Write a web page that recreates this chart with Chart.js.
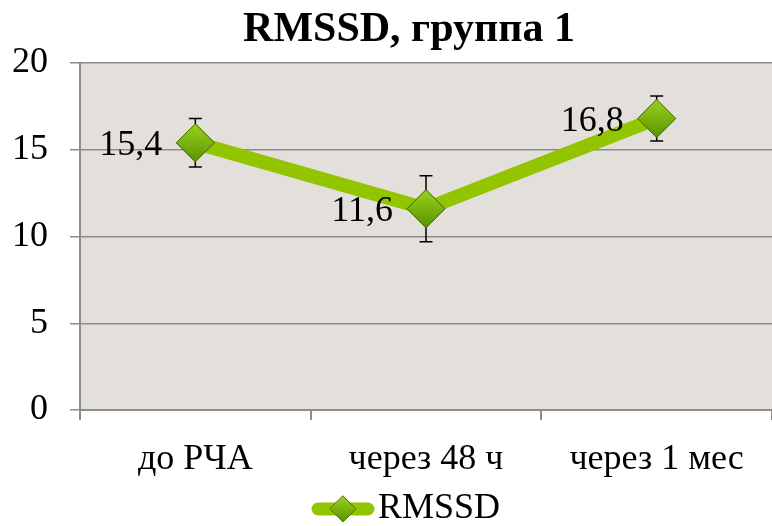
<!DOCTYPE html>
<html>
<head>
<meta charset="utf-8">
<script src="https://cdn.jsdelivr.net/npm/chart.js@4"></script>
<style>
  html, body { margin: 0; padding: 0; background: #ffffff; }
  #wrap { width: 772px; height: 526px; }
</style>
</head>
<body>
<div id="wrap"><canvas id="chartRmssd"></canvas></div>
<script>
const categories = ['до РЧА', 'через 48 ч', 'через 1 мес'];
const rmssdValues = [15.4, 11.6, 16.8];
const rmssdErrors = [1.4, 1.9, 1.3];
const valueLabels = ['15,4', '11,6', '16,8'];
const yTicks = [0, 5, 10, 15, 20];

const serif = "'Liberation Serif', 'Times New Roman', serif";

// legend symbol: thick line with a diamond, drawn in the right part of a wider image
const legendIcon = document.createElement('canvas');
legendIcon.width = 114;
legendIcon.height = 32;
(() => {
  const c = legendIcon.getContext('2d');
  const x0 = 114 - 64;
  c.strokeStyle = '#92c400';
  c.lineWidth = 13;
  c.lineCap = 'round';
  c.beginPath();
  c.moveTo(x0 + 7, 16);
  c.lineTo(x0 + 57, 16);
  c.stroke();
  const g = c.createLinearGradient(0, 3, 0, 29);
  g.addColorStop(0, '#9ad21e');
  g.addColorStop(1, '#5a9300');
  c.fillStyle = g;
  c.strokeStyle = '#4d7300';
  c.lineWidth = 1;
  c.beginPath();
  c.moveTo(x0 + 32, 3);
  c.lineTo(x0 + 45, 16);
  c.lineTo(x0 + 32, 29);
  c.lineTo(x0 + 19, 16);
  c.closePath();
  c.fill();
  c.stroke();
})();

// grey plot background
const plotBackground = {
  id: 'plotBackground',
  beforeDraw(chart) {
    const { ctx, chartArea: a } = chart;
    ctx.save();
    ctx.fillStyle = '#e3e0dc';
    ctx.fillRect(a.left, a.top, a.right - a.left, a.bottom - a.top);
    ctx.restore();
  }
};

// error bars, then the markers again on top of them
const errorBars = {
  id: 'errorBars',
  afterDatasetDraw(chart, args) {
    if (args.index !== 0) return;
    const { ctx, scales } = chart;
    const meta = chart.getDatasetMeta(0);
    ctx.save();
    ctx.strokeStyle = '#000000';
    ctx.lineWidth = 1.5;
    meta.data.forEach((pt, i) => {
      const yTop = scales.y.getPixelForValue(rmssdValues[i] + rmssdErrors[i]);
      const yBot = scales.y.getPixelForValue(rmssdValues[i] - rmssdErrors[i]);
      ctx.beginPath();
      ctx.moveTo(pt.x, yTop);
      ctx.lineTo(pt.x, yBot);
      ctx.moveTo(pt.x - 6.5, yTop);
      ctx.lineTo(pt.x + 6.5, yTop);
      ctx.moveTo(pt.x - 6.5, yBot);
      ctx.lineTo(pt.x + 6.5, yBot);
      ctx.stroke();
    });
    ctx.restore();
    meta.data.forEach(pt => pt.draw(ctx, chart.chartArea));
  }
};

// value labels to the left of each point
const valueLabelPlugin = {
  id: 'valueLabels',
  afterDatasetsDraw(chart) {
    const { ctx } = chart;
    const meta = chart.getDatasetMeta(0);
    ctx.save();
    ctx.font = '36px ' + serif;
    ctx.fillStyle = '#000000';
    ctx.textAlign = 'right';
    ctx.textBaseline = 'middle';
    meta.data.forEach((pt, i) => {
      ctx.fillText(valueLabels[i], pt.x - 33, pt.y + 3);
    });
    ctx.restore();
  }
};

const markerFill = (context) => {
  const chart = context.chart;
  if (!chart.chartArea || context.dataIndex === undefined) return '#78b500';
  const y = chart.scales.y.getPixelForValue(rmssdValues[context.dataIndex]);
  const g = chart.ctx.createLinearGradient(0, y - 19, 0, y + 19);
  g.addColorStop(0, '#9ad21e');
  g.addColorStop(1, '#5a9300');
  return g;
};

new Chart(document.getElementById('chartRmssd').getContext('2d'), {
  type: 'line',
  data: {
    labels: categories,
    datasets: [{
      label: 'RMSSD',
      data: rmssdValues,
      borderColor: '#92c400',
      borderWidth: 14,
      pointStyle: 'rectRot',
      pointRadius: 19,
      pointHoverRadius: 19,
      pointBackgroundColor: markerFill,
      pointBorderColor: '#4d7300',
      pointBorderWidth: 1,
      tension: 0
    }]
  },
  options: {
    responsive: true,
    maintainAspectRatio: false,
    animation: false,
    layout: { autoPadding: false, padding: { left: 0, right: -4, top: 0, bottom: -11 } },
    plugins: {
      title: {
        display: true,
        text: '    RMSSD, группа 1',
        color: '#000000',
        font: { family: serif, size: 42, weight: 'bold' },
        padding: { top: 5, bottom: 7.6 }
      },
      legend: {
        position: 'bottom',
        labels: {
          color: '#000000',
          font: { family: serif, size: 36 },
          usePointStyle: true,
          pointStyleWidth: 84,
          padding: 4,
          generateLabels: () => [{
            text: 'RMSSD',
            pointStyle: legendIcon,
            fillStyle: '#92c400',
            strokeStyle: '#92c400',
            lineWidth: 0,
            datasetIndex: 0,
            hidden: false
          }]
        }
      },
      tooltip: { enabled: false }
    },
    scales: {
      x: {
        offset: true,
        grid: {
          offset: true,
          drawOnChartArea: false,
          drawTicks: true,
          tickLength: 10,
          color: '#8c8c8c',
          lineWidth: 2
        },
        border: { color: '#8c8c8c', width: 2 },
        ticks: {
          color: '#000000',
          font: { family: serif, size: 36 },
          padding: 18
        },
        afterFit: (scale) => { scale.height = 77; }
      },
      y: {
        min: 0,
        max: 20,
        afterBuildTicks: (scale) => { scale.ticks = yTicks.map(v => ({ value: v })); },
        grid: {
          color: '#8c8c8c',
          lineWidth: 1.5,
          drawTicks: true,
          tickLength: 10
        },
        border: { color: '#8c8c8c', width: 2 },
        ticks: {
          color: '#000000',
          font: { family: serif, size: 36 },
          padding: 22
        },
        afterFit: (scale) => { scale.width = 80; }
      }
    }
  },
  plugins: [plotBackground, errorBars, valueLabelPlugin]
});
</script>
</body>
</html>
